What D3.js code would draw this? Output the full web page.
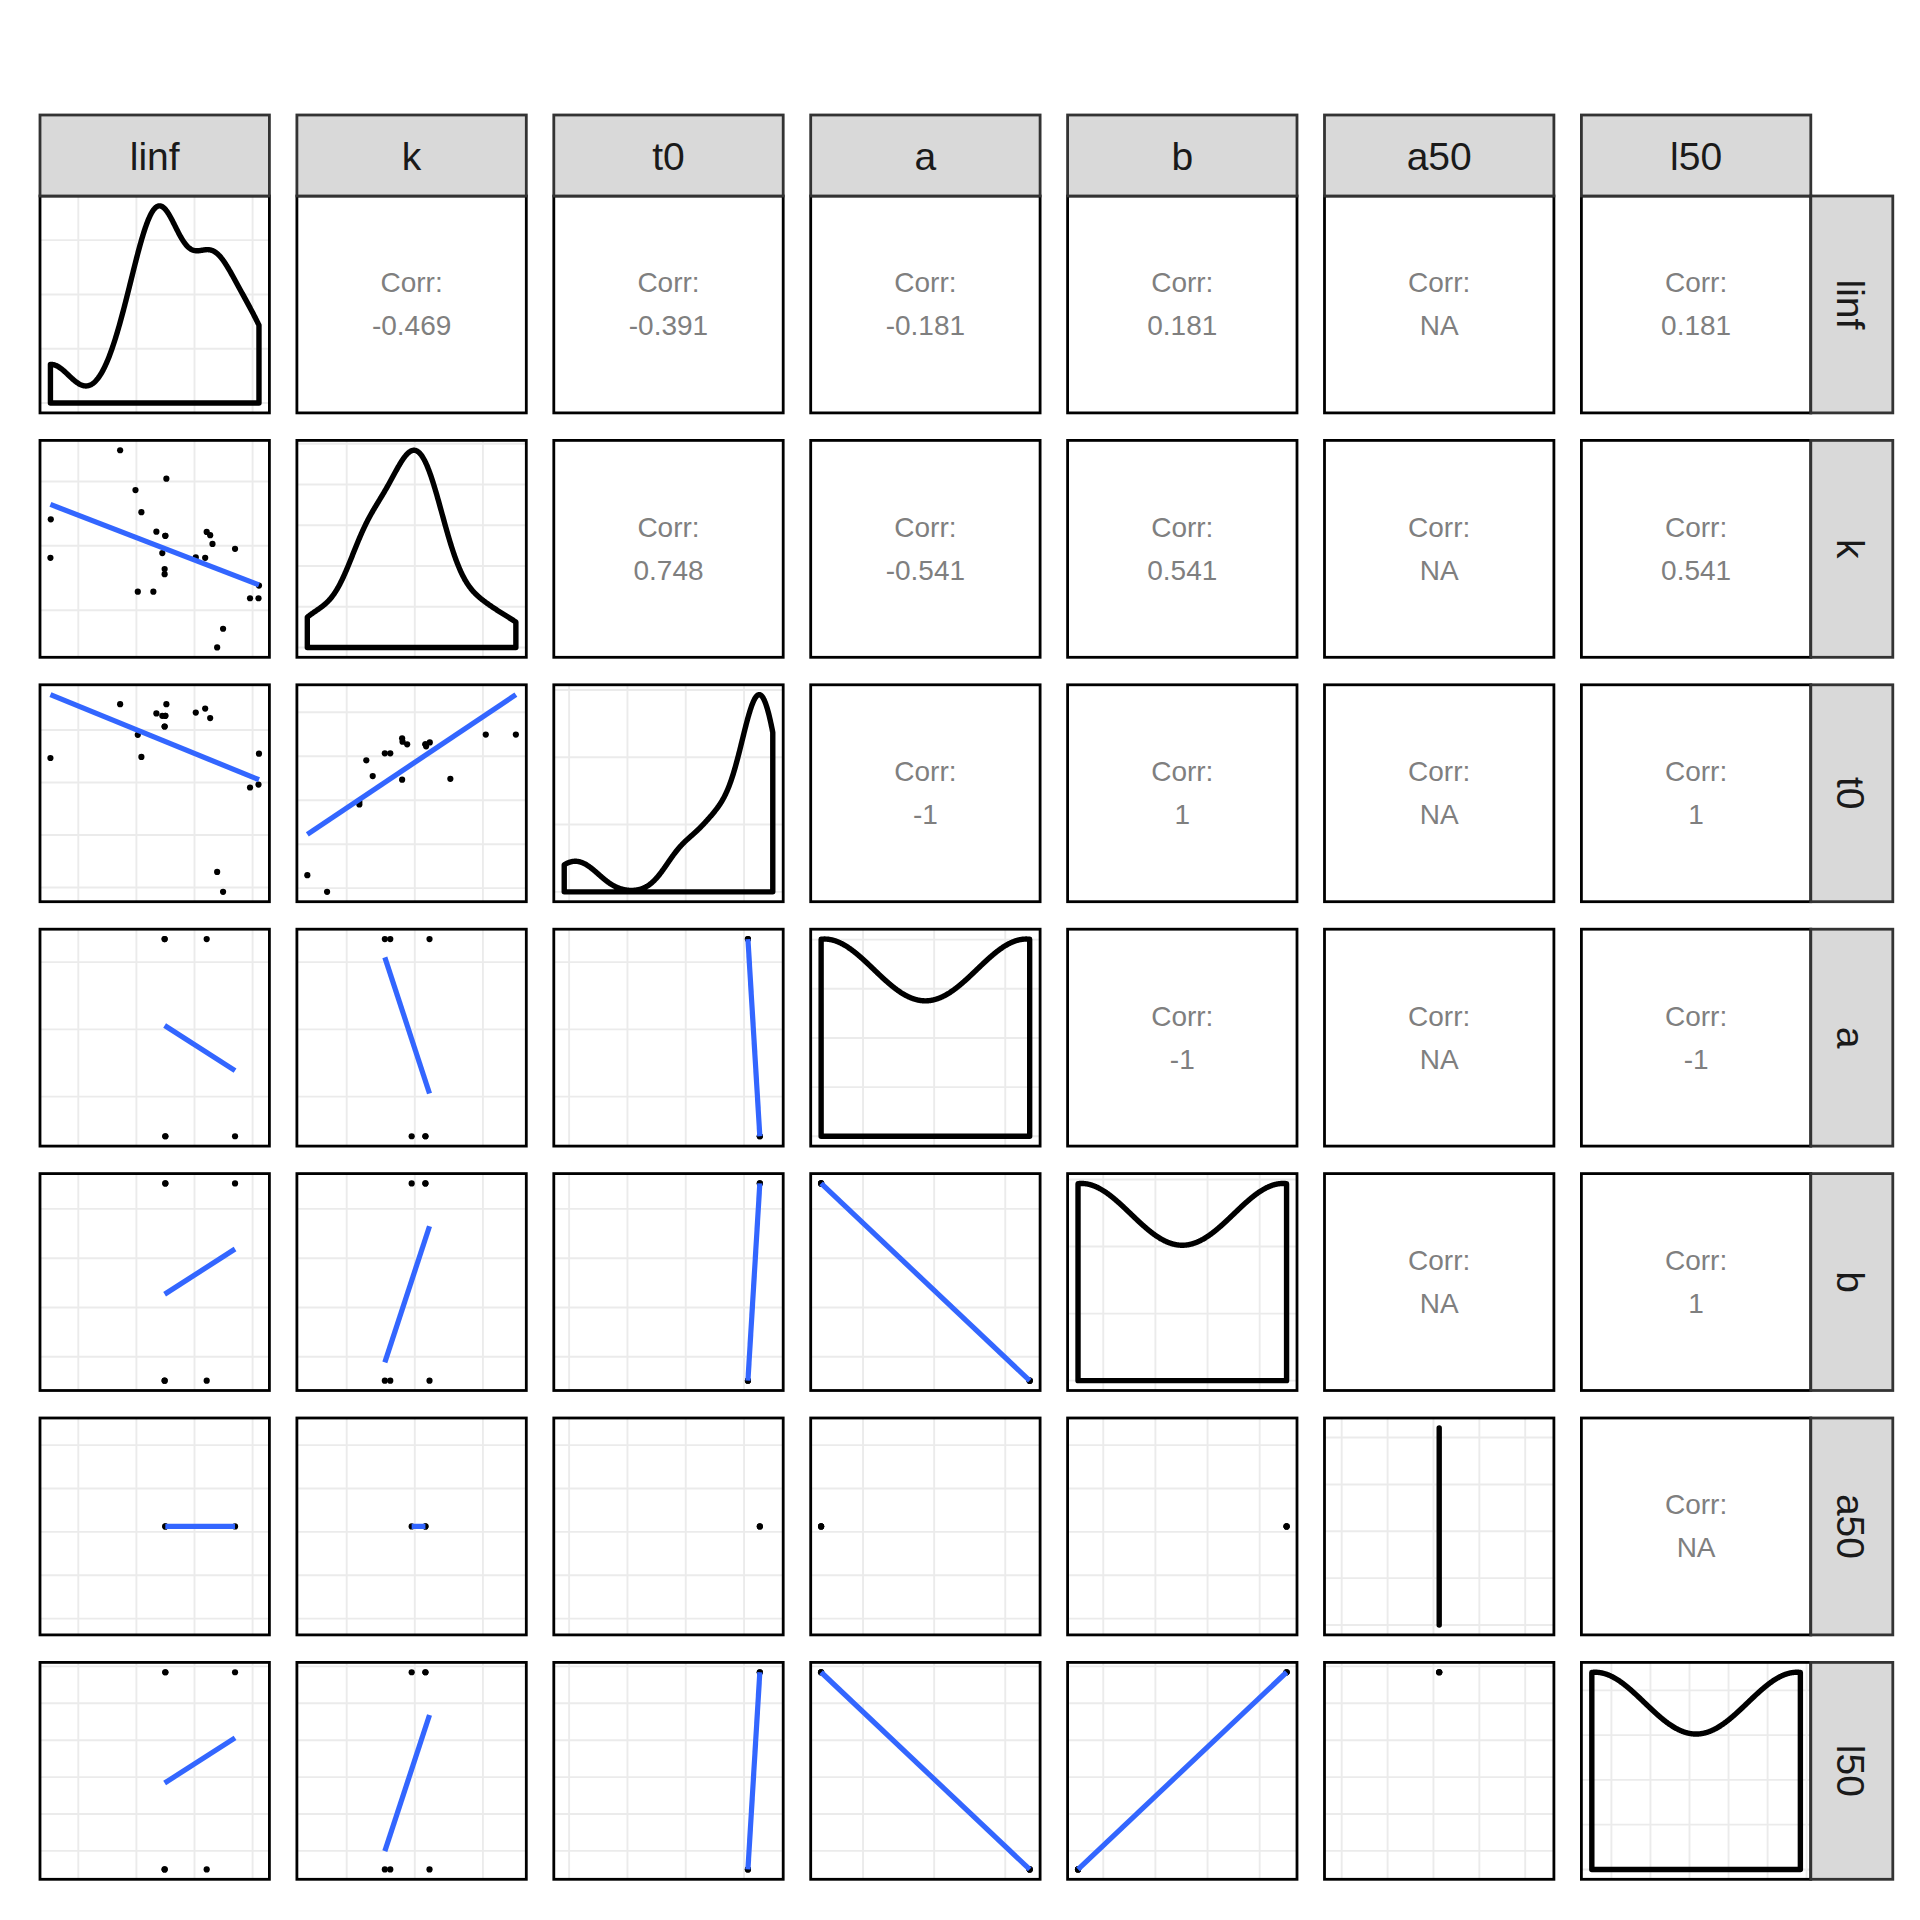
<!DOCTYPE html>
<html><head><meta charset="utf-8">
<script src="https://cdnjs.cloudflare.com/ajax/libs/d3/7.8.5/d3.min.js"></script>
<style>body{margin:0;background:#fff}</style>
</head><body><svg id="chart" width="1920" height="1920" xmlns="http://www.w3.org/2000/svg"></svg>
<script>
// ---------------- data (null = NA) ----------------
const variables = ["linf", "k", "t0", "a", "b", "a50", "l50"];
const linf = [43.60, 47.58, 44.92, 45.43, 37.63, 46.72, 47.49, 47.49, 51.05, 51.35, 51.55, 53.49, 37.60, 47.23, 50.11, 50.92, 47.43, 47.43, 45.12, 46.46, 55.55, 54.78, 55.51, 52.46, 51.95];
const k    = [0.2742, 0.2521, 0.2433, 0.2261, 0.2206, 0.2110, 0.2078, 0.2078, 0.2108, 0.2083, 0.2015, 0.1977, 0.1907, 0.1944, 0.1910, 0.1907, 0.1820, 0.1780, 0.1644, 0.1644, 0.1691, 0.1593, 0.1593, 0.1356, 0.1211];
const t0   = [-0.754, -0.754, null, -1.257, null, -0.843, -0.865, -0.865, null, -0.887, null, null, -1.267, -0.865, -0.834, -0.796, -0.967, -0.967, -1.046, null, -1.226, -1.548, -1.520, -2.542, -2.352];
const a    = [null, null, null, null, null, null, 0.008411, 0.008411, 0.011343, null, null, 0.008411, null, null, null, null, 0.011343, 0.011343, null, null, null, null, null, null, null];
const b    = [null, null, null, null, null, null, 3.1758, 3.1758, 2.9758, null, null, 3.1758, null, null, null, null, 2.9758, 2.9758, null, null, null, null, null, null, null];
const a50  = [null, null, null, null, null, null, 2.625, 2.625, null, null, null, 2.625, null, null, null, null, null, null, null, null, null, null, null, null, null];
const l50  = [null, null, null, null, null, null, 32.42, 32.42, 29.749, null, null, 32.42, null, null, null, null, 29.749, 29.749, null, null, null, null, null, null, null];
// correlation labels, upper triangle, row by row
const corrLabels = [
  ["-0.469", "-0.391", "-0.181", "0.181", "NA", "0.181"],
  ["0.748", "-0.541", "0.541", "NA", "0.541"],
  ["-1", "1", "NA", "1"],
  ["-1", "NA", "-1"],
  ["NA", "1"],
  ["NA"]
];
const columns = { linf, k, t0, a, b, a50, l50 };

// ---------------- layout ----------------
const L = 40, T = 196, PW = 229.4, PH = 216.9, GAP = 27.5;
const STRIP_TOP = 115, STRIP_W = 82;
const colX = c => L + c * (PW + GAP);
const rowY = r => T + r * (PH + GAP);
const N = variables.length;

// ---------------- helpers ----------------
function expandDomain(ext) {
  const [lo, hi] = ext;
  if (Math.abs(hi - lo) < 1e-10 * Math.max(1, Math.abs(lo))) return [lo - 0.5, hi + 0.5];
  const d = (hi - lo) * 0.05;
  return [lo - d, hi + d];
}
// labeling::extended (as used by ggplot2 / scales::extended_breaks)
function extendedBreaks(dmin, dmax, m = 5) {
  const Q = [1, 5, 2, 2.5, 4, 3], w = [0.25, 0.2, 0.5, 0.05];
  const eps = 2.220446e-16 * 100;
  const nq = Q.length;
  if (dmax - dmin < eps) return [dmin];
  const mod = (x, y) => x - y * Math.floor(x / y);
  const simplicity = (qi, j, lmin, lmax, lstep) => {
    const r = mod(lmin, lstep);
    const v = ((r < eps || lstep - r < eps) && lmin <= 0 && lmax >= 0) ? 1 : 0;
    return 1 - qi / (nq - 1) - j + v;
  };
  const simplicityMax = (qi, j) => 1 - qi / (nq - 1) - j + 1;
  const coverage = (lmin, lmax) => {
    const range = dmax - dmin;
    return 1 - 0.5 * ((dmax - lmax) ** 2 + (dmin - lmin) ** 2) / ((0.1 * range) ** 2);
  };
  const coverageMax = span => {
    const range = dmax - dmin;
    if (span > range) { const half = (span - range) / 2; return 1 - 0.5 * (2 * half * half) / ((0.1 * range) ** 2); }
    return 1;
  };
  const density = (kk, lmin, lmax) => {
    const r = (kk - 1) / (lmax - lmin);
    const rt = (m - 1) / (Math.max(lmax, dmax) - Math.min(dmin, lmin));
    return 2 - Math.max(r / rt, rt / r);
  };
  const densityMax = kk => kk >= m ? 2 - (kk - 1) / (m - 1) : 1;
  let best = { score: -2 };
  let j = 1;
  outer: while (j < 50) {
    for (let qi = 0; qi < nq; qi++) {
      const q = Q[qi];
      const sm = simplicityMax(qi, j);
      if (w[0] * sm + w[1] + w[2] + w[3] < best.score) break outer;
      let kk = 2;
      while (kk < 200) {
        const dm = densityMax(kk);
        if (w[0] * sm + w[1] + w[2] * dm + w[3] < best.score) break;
        const delta = (dmax - dmin) / (kk + 1) / j / q;
        let z = Math.ceil(Math.log10(delta));
        while (z < 400) {
          const step = j * q * Math.pow(10, z);
          const cm = coverageMax(step * (kk - 1));
          if (w[0] * sm + w[1] * cm + w[2] * dm + w[3] < best.score) break;
          const minStart = Math.floor(dmax / step) * j - (kk - 1) * j;
          const maxStart = Math.ceil(dmin / step) * j;
          if (minStart > maxStart) { z++; continue; }
          for (let start = minStart; start <= maxStart; start++) {
            const lmin = start * (step / j);
            const lmax = lmin + step * (kk - 1);
            const s = simplicity(qi, j, lmin, lmax, step);
            const c = coverage(lmin, lmax);
            const g = density(kk, lmin, lmax);
            const score = w[0] * s + w[1] * c + w[2] * g + w[3];
            if (score > best.score) best = { lmin, lmax, lstep: step, score };
          }
          z++;
        }
        kk++;
      }
    }
    j++;
  }
  const out = [];
  for (let v = best.lmin, i = 0; v <= best.lmax + best.lstep * 1e-9; i++, v = best.lmin + i * best.lstep) out.push(v);
  return out;
}
function gridBreaks(dom) {
  const br = extendedBreaks(dom[0], dom[1]);
  const tol = (dom[1] - dom[0]) * 1e-9;
  return br.filter(v => v >= dom[0] - tol && v <= dom[1] + tol);
}
function bwNrd0(x) {
  const n = x.length;
  const sd = n > 1 ? d3.deviation(x) : 0;
  const s = x.slice().sort((p, q) => p - q);
  const iqr = d3.quantile(s, 0.75) - d3.quantile(s, 0.25);
  let lo = Math.min(sd, iqr / 1.34);
  if (!(lo > 0)) lo = sd || Math.abs(x[0]) || 1;
  return 0.9 * lo * Math.pow(n, -0.2);
}
function kde(x) {
  const bw = bwNrd0(x);
  const [lo, hi] = d3.extent(x);
  const pts = [];
  const n = x.length;
  for (let i = 0; i < 512; i++) {
    const xv = lo + (hi - lo) * i / 511;
    let s = 0;
    for (const xi of x) { const u = (xv - xi) / bw; s += Math.exp(-0.5 * u * u); }
    pts.push([xv, s / (n * bw * Math.sqrt(2 * Math.PI))]);
  }
  return pts;
}
const nonNull = arr => arr.filter(v => v !== null);
function pairs(xa, ya) {
  const out = [];
  for (let i = 0; i < xa.length; i++) if (xa[i] !== null && ya[i] !== null) out.push([xa[i], ya[i]]);
  return out;
}
function lmLine(p) {
  if (p.length < 2) return null;
  const xs = p.map(d => d[0]), ys = p.map(d => d[1]);
  const [x0, x1] = d3.extent(xs);
  if (x1 - x0 < 1e-12) return null;
  const mx = d3.mean(xs), my = d3.mean(ys);
  let sxy = 0, sxx = 0;
  for (const [xv, yv] of p) { sxy += (xv - mx) * (yv - my); sxx += (xv - mx) ** 2; }
  const slope = sxy / sxx;
  return [[x0, my + slope * (x0 - mx)], [x1, my + slope * (x1 - mx)]];
}

// ---------------- drawing ----------------
const svg = d3.select("#chart");
svg.append("rect").attr("width", 1920).attr("height", 1920).attr("fill", "#fff");
const defs = svg.append("defs");
const FONT = "'Liberation Sans', Arial, Helvetica, sans-serif";
const BORDER_W = 2.8, DENS_W = 5.4, LM_W = 5.2, PT_R = 3.1, GRID_W = 1.9;

for (let r = 0; r < N; r++) {
  for (let c = 0; c < N; c++) {
    const g = svg.append("g").attr("transform", `translate(${colX(c)},${rowY(r)})`);
    if (r < c) {
      const lab = corrLabels[r][c - r - 1];
      g.append("text").attr("x", PW / 2).attr("y", PH / 2 - 21.5)
        .attr("text-anchor", "middle").attr("dominant-baseline", "central")
        .attr("font-family", FONT).attr("font-size", 28).attr("fill", "#7F7F7F").text("Corr:");
      g.append("text").attr("x", PW / 2).attr("y", PH / 2 + 21.5)
        .attr("text-anchor", "middle").attr("dominant-baseline", "central")
        .attr("font-family", FONT).attr("font-size", 28).attr("fill", "#7F7F7F").text(lab);
      g.append("rect").attr("width", PW).attr("height", PH).attr("fill", "none")
        .attr("stroke", "#000").attr("stroke-width", BORDER_W);
      continue;
    }
    const xv = columns[variables[c]], yv = columns[variables[r]];
    const xDom = expandDomain(d3.extent(nonNull(xv)));
    let yDom, dens = null, p = null, line = null;
    if (r === c) {
      dens = kde(nonNull(xv));
      yDom = expandDomain([0, d3.max(dens, d => d[1])]);
    } else {
      p = pairs(xv, yv);
      line = lmLine(p);
      const yvals = nonNull(yv).concat(line ? line.map(d => d[1]) : []);
      yDom = expandDomain(d3.extent(yvals));
    }
    const xs = d3.scaleLinear().domain(xDom).range([0, PW]);
    const ys = d3.scaleLinear().domain(yDom).range([PH, 0]);
    const cid = `clip${r}_${c}`;
    defs.append("clipPath").attr("id", cid).append("rect").attr("width", PW).attr("height", PH);
    const inner = g.append("g").attr("clip-path", `url(#${cid})`);
    inner.append("rect").attr("width", PW).attr("height", PH).attr("fill", "#fff");
    inner.selectAll(null).data(gridBreaks(xDom)).join("line")
      .attr("x1", d => xs(d)).attr("x2", d => xs(d)).attr("y1", 0).attr("y2", PH)
      .attr("stroke", "#EBEBEB").attr("stroke-width", GRID_W);
    inner.selectAll(null).data(gridBreaks(yDom)).join("line")
      .attr("y1", d => ys(d)).attr("y2", d => ys(d)).attr("x1", 0).attr("x2", PW)
      .attr("stroke", "#EBEBEB").attr("stroke-width", GRID_W);
    if (dens) {
      const poly = dens.concat([[dens[dens.length - 1][0], 0], [dens[0][0], 0]]);
      inner.append("path")
        .attr("d", d3.line().x(d => xs(d[0])).y(d => ys(d[1]))(poly) + "Z")
        .attr("fill", "none").attr("stroke", "#000").attr("stroke-width", DENS_W)
        .attr("stroke-linejoin", "round");
    } else {
      inner.selectAll(null).data(p).join("circle")
        .attr("cx", d => xs(d[0])).attr("cy", d => ys(d[1])).attr("r", PT_R).attr("fill", "#000");
      if (line) {
        inner.append("path").attr("d", d3.line().x(d => xs(d[0])).y(d => ys(d[1]))(line))
          .attr("stroke", "#3366FF").attr("stroke-width", LM_W).attr("fill", "none");
      }
    }
    g.append("rect").attr("width", PW).attr("height", PH).attr("fill", "none")
      .attr("stroke", "#000").attr("stroke-width", BORDER_W);
  }
}
// strips
for (let c = 0; c < N; c++) {
  const g = svg.append("g").attr("transform", `translate(${colX(c)},${STRIP_TOP})`);
  g.append("rect").attr("width", PW).attr("height", T - STRIP_TOP).attr("fill", "#D9D9D9")
    .attr("stroke", "#333333").attr("stroke-width", BORDER_W);
  g.append("text").attr("x", PW / 2).attr("y", (T - STRIP_TOP) / 2 + 1)
    .attr("text-anchor", "middle").attr("dominant-baseline", "central")
    .attr("font-family", FONT).attr("font-size", 39).attr("fill", "#1A1A1A").text(variables[c]);
}
for (let r = 0; r < N; r++) {
  const x0 = colX(N - 1) + PW;
  const g = svg.append("g").attr("transform", `translate(${x0},${rowY(r)})`);
  g.append("rect").attr("width", STRIP_W).attr("height", PH).attr("fill", "#D9D9D9")
    .attr("stroke", "#333333").attr("stroke-width", BORDER_W);
  g.append("text").attr("transform", `translate(${STRIP_W / 2 - 1},${PH / 2}) rotate(90)`)
    .attr("text-anchor", "middle").attr("dominant-baseline", "central")
    .attr("font-family", FONT).attr("font-size", 39).attr("fill", "#1A1A1A").text(variables[r]);
}
</script>
</body></html>
